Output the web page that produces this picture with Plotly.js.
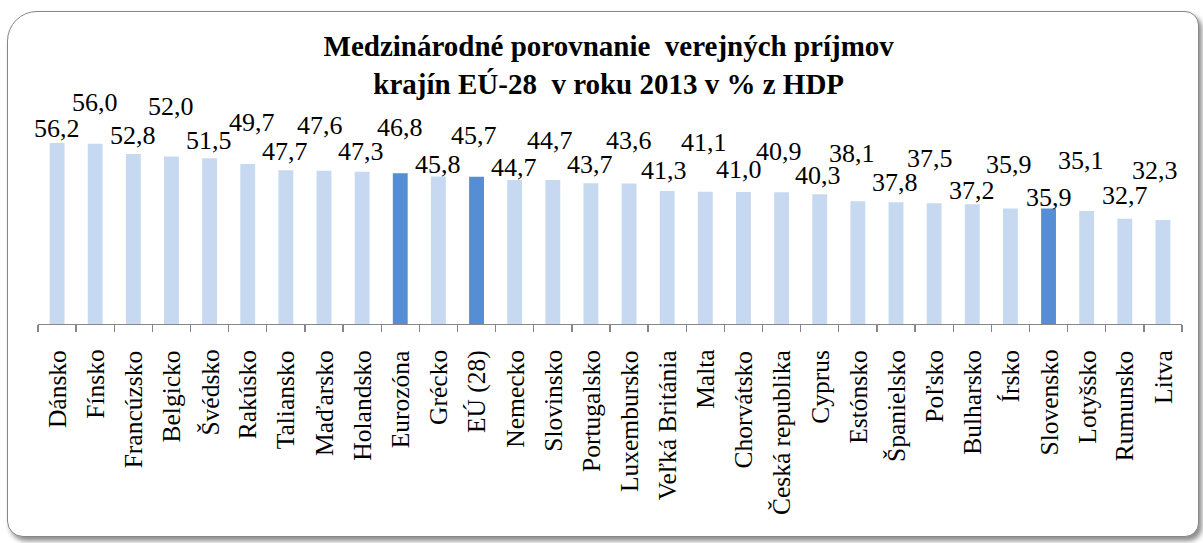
<!DOCTYPE html>
<html>
<head>
<meta charset="utf-8">
<script src="https://cdn.plot.ly/plotly-3.0.1.min.js"></script>
<style>
  html, body { margin: 0; padding: 0; background: #ffffff; }
  #wrap { position: relative; width: 1203px; height: 543px; overflow: hidden; background: #ffffff; }
  #frame {
    position: absolute; left: 7px; top: 11px; width: 1192px; height: 526px;
    box-sizing: border-box; border: 1.5px solid #878787;
    border-radius: 30px 14px 14px 16px;
    box-shadow: 3px 4px 5px rgba(0,0,0,0.45);
    background: #ffffff;
  }
  #chart { position: absolute; left: 0; top: 0; width: 1203px; height: 543px; }
</style>
</head>
<body>
<div id="wrap">
  <div id="frame"></div>
  <div id="chart"></div>
</div>
<script>
// Data
const countries = ["Dánsko","Fínsko","Francúzsko","Belgicko","Švédsko","Rakúsko","Taliansko","Maďarsko","Holandsko","Eurozóna","Grécko","EÚ (28)","Nemecko","Slovinsko","Portugalsko","Luxembursko","Veľká Británia","Malta","Chorvátsko","Česká republika","Cyprus","Estónsko","Španielsko","Poľsko","Bulharsko","Írsko","Slovensko","Lotyšsko","Rumunsko","Litva"];
const revenues = [56.2,56.0,52.8,52.0,51.5,49.7,47.7,47.6,47.3,46.8,45.8,45.7,44.7,44.7,43.7,43.6,41.3,41.1,41.0,40.9,40.3,38.1,37.8,37.5,37.2,35.9,35.9,35.1,32.7,32.3];
const highlighted = ["Eurozóna","EÚ (28)","Slovensko"];

// Value-label placement (pixels above bar top, horizontal nudge) – layout only
const labelDy = [15,41,18,50,18,41,19,45,20,46,12,41,13,40,19,43,20,49,22,41,19,48,20,45,14,44,11,50,23,49];
const labelDx = [0,0,0,0,-1,4,-1,-4,-1,0,0,-3,-1,-3,-1,0,-3,-1,-4,-3,-2,-6,-1,-4,0,-1,0,-6,0,-8];

const LIGHT = "#C6D9F1", DARK = "#558ED5";
const FONT = "'Liberation Serif', 'Times New Roman', serif";
const colors = countries.map(c => highlighted.includes(c) ? DARK : LIGHT);

const trace = { type: "bar", x: countries, y: revenues, marker: { color: colors, line: { width: 0 } } };

const fmt = v => v.toFixed(1).replace(".", ",");
const valueLabels = countries.map((c, i) => ({
  x: c, y: revenues[i], xref: "x", yref: "y", text: fmt(revenues[i]), showarrow: false,
  xanchor: "center", yanchor: "middle", yshift: labelDy[i], xshift: labelDx[i],
  font: { family: FONT, size: 26, color: "#000000" }
}));
const catLabels = countries.map(c => ({
  x: c, y: 0, xref: "x", yref: "y", text: c, showarrow: false, textangle: -90,
  xanchor: "center", yanchor: "top", yshift: -24,
  font: { family: FONT, size: 25.5, color: "#000000" }
}));

const layout = {
  width: 1203, height: 543,
  margin: { l: 37.5, r: 20.5, t: 100, b: 219, pad: 0 },
  paper_bgcolor: "rgba(0,0,0,0)", plot_bgcolor: "rgba(0,0,0,0)",
  bargap: 0.61, showlegend: false,
  title: {
    text: "<b>Medzinárodné porovnanie  verejných príjmov<br>krajín EÚ-28  v roku 2013 v % z HDP</b>",
    font: { family: FONT, size: 29, color: "#000000" },
    x: 0.506, xanchor: "center", y: 0.897, yanchor: "top"
  },
  xaxis: {
    type: "category", autorange: false, range: [-0.5, countries.length - 0.5],
    showline: true, linecolor: "#878787", linewidth: 1.3,
    ticks: "outside", tickson: "boundaries", ticklen: 7, tickcolor: "#878787", tickwidth: 1.3,
    showticklabels: false, showgrid: false, zeroline: false, fixedrange: true
  },
  yaxis: { range: [0, 69.55], autorange: false, visible: false, fixedrange: true },
  annotations: valueLabels.concat(catLabels)
};

Plotly.newPlot("chart", [trace], layout, { displayModeBar: false, staticPlot: true });
</script>
</body>
</html>
